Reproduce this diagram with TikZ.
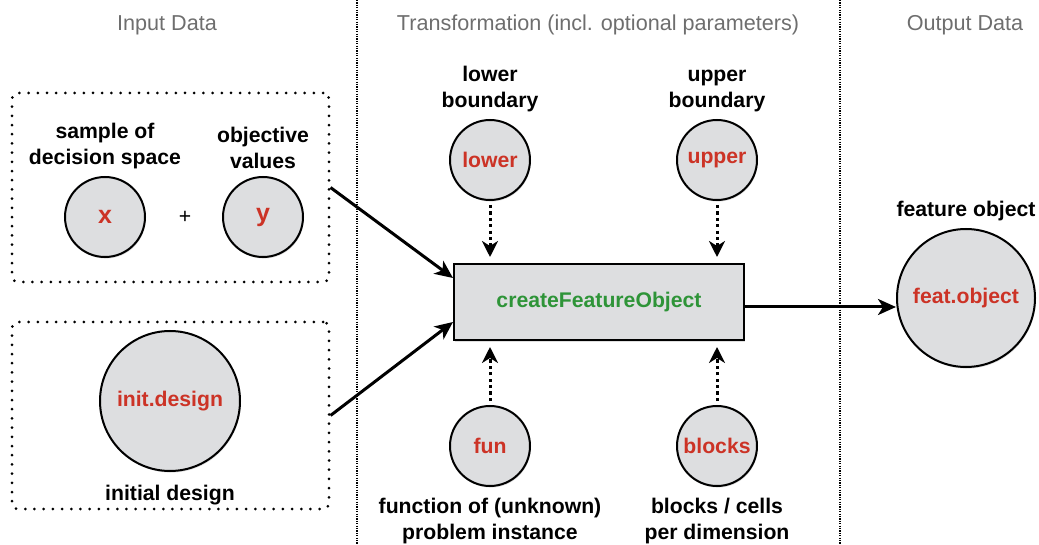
\documentclass[tikz,border=0pt]{standalone}
\usepackage{fontspec}
\setmainfont{Liberation Sans}
\usetikzlibrary{positioning,calc,arrows.meta,shadows}
\definecolor{argred}{HTML}{CC3326}
\definecolor{fungreen}{HTML}{2E9438}
\definecolor{ballgray}{HTML}{DDDEE0}
\definecolor{headgray}{HTML}{6E6E6E}
\begin{document}
\begin{tikzpicture}[x=0.5pt, y=-0.5pt,
            font=\fontsize{10.6}{13}\selectfont,
            ball/.style={circle, draw, line width=1pt, fill=ballgray, minimum size=40pt, inner sep=0pt,
                         font=\fontsize{10.6}{13}\selectfont\bfseries, text=argred,
                         drop shadow={shadow xshift=0.4pt, shadow yshift=-0.8pt, opacity=0.25}},
            bigletter/.style={font=\fontsize{12.5}{13}\selectfont\bfseries},
            lbl/.style={align=center, font=\fontsize{10.6}{13}\selectfont\bfseries},
            head/.style={text=headgray, font=\fontsize{10.8}{13}\selectfont},
            group/.style={draw, line width=1.5pt, line cap=round, dash pattern=on 0pt off 4.6pt, rounded corners=3pt},
            divider/.style={line width=0.7pt, dash pattern=on 0.6pt off 0.6pt},
            arr/.style={line width=1.5pt, -{Stealth[length=9pt, width=8pt, inset=2.5pt]}},
            optarr/.style={line width=1.5pt, dash pattern=on 1.6pt off 1.6pt, -{Stealth[length=8pt, width=8pt, inset=2.5pt]}}]
            \useasboundingbox (0,0) rectangle (1039,545);
            % columns
            \draw[divider] (357,0) -- (357,545);
            \draw[divider] (840,0) -- (840,545);
            \node[head] (hin) at (167,25) {Input Data};
            \node[head] (htr) at (598,25) {Transformation (incl. optional parameters)};
            \node[head] (hout) at (965,25) {Output Data};

            % input data
            \node[group, minimum width=158.5pt, minimum height=94.5pt] (topgrp) at (170.5,187.5) {};
            \node[group, minimum width=158.5pt, minimum height=93.5pt] (botgrp) at (170.5,415.5) {};
            \node[ball, bigletter] (xs) at (105,217) {x};
            \node[ball, bigletter] (ys) at (263,217) {y};
            \node (plus) at (185,217) {+};
            \node[lbl, above=0pt of xs] (xslbl) {sample of\\decision space};
            \node[lbl, above=0pt of ys] (yslbl) {objective\\values};
            \node[ball, minimum size=70pt] (init) at (170,401) {init.design};
            \node[lbl, below=3pt of init] (initlbl) {initial design};

            % transformation
            \node[draw, line width=1pt, fill=ballgray, minimum width=145pt, minimum height=38pt,
                  font=\fontsize{10.6}{13}\selectfont\bfseries, text=fungreen,
                  drop shadow={shadow xshift=0.4pt, shadow yshift=-0.8pt, opacity=0.25}] (core) at (599,302) {createFeatureObject};
            \node[ball] (lower) at (490,160) {lower};
            \node[ball] (upper) at (717,160) {upper};
            \node[ball] (fun) at (490,446) {fun};
            \node[ball] (blocks) at (717,446) {blocks};
            \node[lbl, above=0pt of lower] (lowerlbl) {lower\\boundary};
            \node[lbl, above=0pt of upper] (upperlbl) {upper\\boundary};
            \node[lbl, below=2pt of fun] (funlbl) {function of (unknown)\\problem instance};
            \node[lbl, below=2pt of blocks] (blockslbl) {blocks / cells\\per dimension};

            % output data
            \node[ball, minimum size=69pt] (feat) at (966,298) {feat.object};
            \node[lbl, above=0pt of feat] (featlbl) {feature object};

            \draw[arr] (topgrp.east) -- ($(core.west)+(0,-24)$);
            \draw[arr] (botgrp.east) -- ($(core.west)+(0,20)$);
            \draw[arr] ([yshift=-2.5pt]core.east) -- ([yshift=-2.5pt]core.east -| feat.west);
            \draw[optarr] ([yshift=-2pt]lower.south) -- ([yshift=3pt]lower.south |- core.north);
            \draw[optarr] ([yshift=-2pt]upper.south) -- ([yshift=3pt]upper.south |- core.north);
            \draw[optarr] ([yshift=2pt]fun.north) -- ([yshift=-3pt]fun.north |- core.south);
            \draw[optarr] ([yshift=2pt]blocks.north) -- ([yshift=-3pt]blocks.north |- core.south);
        \end{tikzpicture}
\end{document}
